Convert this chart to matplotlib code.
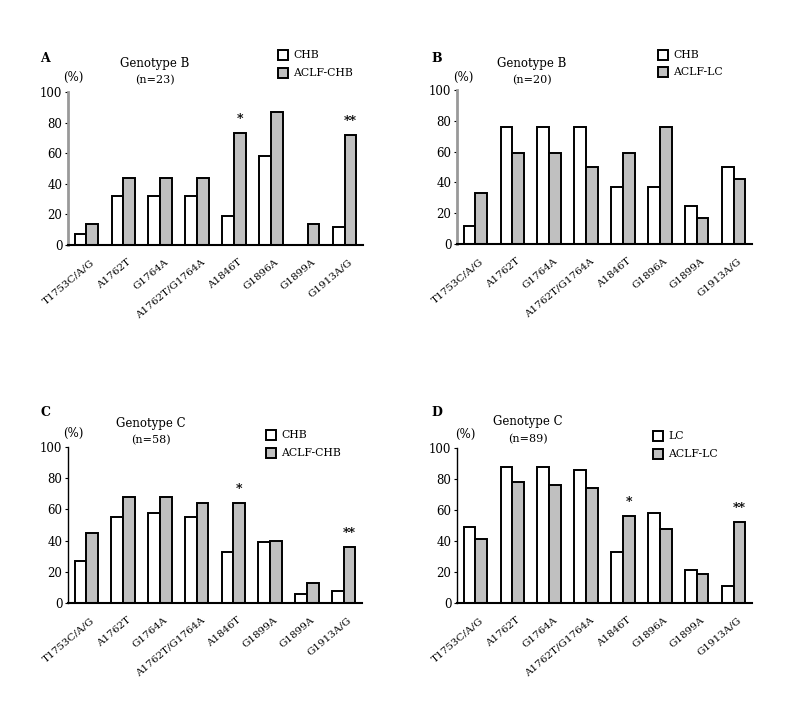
import matplotlib.pyplot as plt
import numpy as np

plt.rcParams['font.family'] = ['DejaVu Serif']

labels_main = ["T1753C/A/G", "A1762T", "G1764A", "A1762T/G1764A",
               "A1846T", "G1896A", "G1899A", "G1913A/G"]
labels_c = ["T1753C/A/G", "A1762T", "G1764A", "A1762T/G1764A",
            "A1846T", "G1899A", "G1899A", "G1913A/G"]

# Panel A: genotype B, CHB vs ACLF-CHB
a_chb = [7, 32, 32, 32, 19, 58, 0, 12]
a_aclf = [14, 44, 44, 44, 73, 87, 14, 72]
# Panel B: genotype B, CHB vs ACLF-LC
b_chb = [12, 76, 76, 76, 37, 37, 25, 50]
b_aclf = [33, 59, 59, 50, 59, 76, 17, 42]
# Panel C: genotype C, CHB vs ACLF-CHB
c_chb = [27, 55, 58, 55, 33, 39, 6, 8]
c_aclf = [45, 68, 68, 64, 64, 40, 13, 36]
# Panel D: genotype C, LC vs ACLF-LC
d_lc = [49, 88, 88, 86, 33, 58, 21, 11]
d_aclf = [41, 78, 76, 74, 56, 48, 19, 52]

panels = [
    dict(rect=[68, 363, 92, 245], letter="A", lpos=(45, 58), title="Genotype B", n="(n=23)",
         tpos=(155, 63), ppos=(73, 77), leg=(283, 55, 73), names=("CHB", "ACLF-CHB"),
         v1=a_chb, v2=a_aclf, labels=labels_main, stars={4: "*", 7: "**"}, gray_axis=True),
    dict(rect=[457, 752, 90, 244], letter="B", lpos=(437, 58), title="Genotype B", n="(n=20)",
         tpos=(532, 63), ppos=(463, 77), leg=(663, 55, 72), names=("CHB", "ACLF-LC"),
         v1=b_chb, v2=b_aclf, labels=labels_main, stars={}, gray_axis=True),
    dict(rect=[68, 362, 447, 603], letter="C", lpos=(45, 412), title="Genotype C", n="(n=58)",
         tpos=(151, 423), ppos=(73, 433), leg=(271, 435, 453), names=("CHB", "ACLF-CHB"),
         v1=c_chb, v2=c_aclf, labels=labels_c, stars={4: "*", 7: "**"}, gray_axis=False),
    dict(rect=[457, 752, 448, 603], letter="D", lpos=(437, 412), title="Genotype C", n="(n=89)",
         tpos=(528, 422), ppos=(465, 434), leg=(658, 436, 454), names=("LC", "ACLF-LC"),
         v1=d_lc, v2=d_aclf, labels=labels_main, stars={4: "*", 7: "**"}, gray_axis=False),
]

W, H = 805, 721
fig = plt.figure(figsize=(W / 100, H / 100), dpi=100)
GRAY = "#c0c0c0"


def fx(px):
    return px / W


def fy(py):
    return 1 - py / H


for p in panels:
    l, r, t, b = p["rect"]
    ax = fig.add_axes([fx(l), fy(b), fx(r - l), (b - t) / H])
    x = np.arange(len(p["labels"]))
    w = 0.32
    ax.bar(x - w / 2, p["v1"], width=w, color="white", edgecolor="black", linewidth=1.4)
    ax.bar(x + w / 2, p["v2"], width=w, color=GRAY, edgecolor="black", linewidth=1.4)
    ax.set_xlim(-0.5, 7.5)
    ax.set_ylim(0, 100)
    ax.set_yticks(range(0, 101, 20))
    ax.set_xticks(x + 0.1)
    ax.set_xticklabels(p["labels"], rotation=40, ha="right", rotation_mode="anchor", fontsize=7.5)
    ax.tick_params(axis="x", length=0, pad=9)
    ax.tick_params(axis="y", labelsize=8.5, length=2, width=0.8, pad=2)
    for s in ("top", "right"):
        ax.spines[s].set_visible(False)
    if p["gray_axis"]:
        ax.spines["left"].set_color("#999999")
        ax.spines["left"].set_linewidth(2)
    else:
        ax.spines["left"].set_linewidth(1)
    ax.spines["bottom"].set_linewidth(1.5)
    ax.spines["bottom"].set_zorder(5)
    for i, s in p["stars"].items():
        ax.annotate(s, (x[i] + w / 2, p["v2"][i]), xytext=(0, 5), textcoords="offset points",
                    ha="center", va="bottom", fontsize=9, fontweight="bold")

    # panel letter, titles, unit, legend
    fig.text(fx(p["lpos"][0]), fy(p["lpos"][1]), p["letter"], ha="center", va="center",
             fontsize=9, fontweight="bold")
    fig.text(fx(p["tpos"][0]), fy(p["tpos"][1]), p["title"], ha="center", va="center", fontsize=8.5)
    fig.text(fx(p["tpos"][0]), fy(p["tpos"][1] + 17), p["n"], ha="center", va="center", fontsize=8)
    fig.text(fx(p["ppos"][0]), fy(p["ppos"][1]), "(%)", ha="center", va="center", fontsize=8.5)
    lx, ly1, ly2 = p["leg"]
    for yy, fc, name in ((ly1, "white", p["names"][0]), (ly2, GRAY, p["names"][1])):
        fig.patches.append(plt.Rectangle((fx(lx - 5), fy(yy + 5)), fx(10), 10 / H,
                                         facecolor=fc, edgecolor="black", linewidth=1.4,
                                         transform=fig.transFigure, figure=fig))
        fig.text(fx(lx + 10), fy(yy), name, ha="left", va="center", fontsize=7.8)

fig.savefig("out.png", dpi=100)
